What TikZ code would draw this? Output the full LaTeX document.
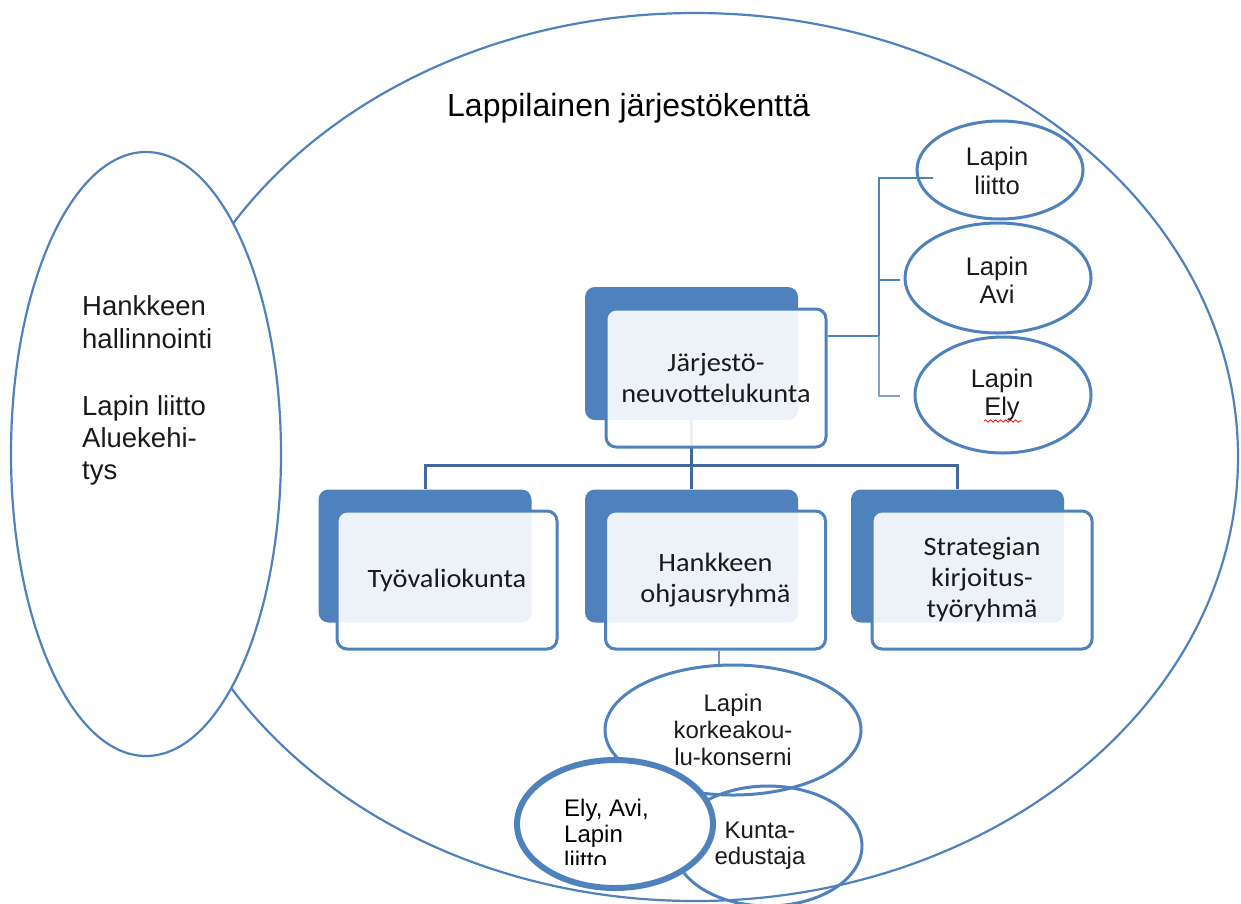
\documentclass[tikz,border=0pt]{standalone}
\usepackage{fontspec}
\setmainfont{Liberation Sans}
\newfontfamily\calfont[FakeStretch=1.07]{Carlito}
\usetikzlibrary{shapes.geometric,decorations.pathmorphing}
\definecolor{ob}{HTML}{4F81BD}
\definecolor{cn}{HTML}{41699C}
\definecolor{cnl}{HTML}{7FA0CC}
\definecolor{txt}{HTML}{1A1A1A}
\tikzset{
  oval/.style={ellipse,draw=ob,inner sep=0pt,align=center,text=txt},
  backbox/.style={rectangle,rounded corners=10pt,fill=ob,minimum width=213pt,minimum height=133pt,inner sep=0pt},
  frontbox/.style={rectangle,rounded corners=10pt,draw=ob,line width=3pt,fill=white,fill opacity=0.9,text opacity=1,
     minimum width=220pt,minimum height=138pt,inner sep=0pt,align=center,text=txt,
     font=\calfont\fontsize{26.5}{31}\selectfont},
  conn/.style={draw=cn,line width=3pt},
  sideconn/.style={draw=ob,line width=2pt},
  arialtxt/.style={inner sep=0pt,anchor=base west,text=txt,font=\fontsize{27.5}{33}\selectfont},
}
\begin{document}
\begin{tikzpicture}[x=1pt,y=-1pt]
\useasboundingbox (0,0) rectangle (1241,903);
% outer field
\node[oval,line width=2.2pt,minimum width=1086pt,minimum height=888pt] (field) at (695,457) {};
\node[inner sep=0pt,anchor=base west,text=black,font=\fontsize{32}{38}\selectfont] (title) at (447,116) {Lappilainen järjestökenttä};
% left ellipse
\node[oval,line width=2.2pt,fill=white,minimum width=270pt,minimum height=604pt] (left) at (146,454) {};
\node[arialtxt] (l1) at (82,315) {Hankkeen};
\node[arialtxt] (l2) at (82,348) {hallinnointi};
\node[arialtxt] (l3) at (82,415) {Lapin liitto};
\node[arialtxt] (l4) at (82,447) {Aluekehi-};
\node[arialtxt] (l5) at (82,479) {tys};
% back boxes
\node[backbox] (b1) at (691.5,353.5) {};
\node[backbox] (b2) at (425,556) {};
\node[backbox] (b3) at (691.5,556) {};
\node[backbox] (b4) at (957.5,556) {};
% connectors
\coordinate (hl) at (691.5,465);
\draw[conn] (b1.south) -- (b3.north);
\draw[conn] (b2.north) |- (hl) -| (b4.north);
\coordinate (rj) at (879,336);
\coordinate (t1) at (933,178);
\coordinate (t2) at (900,280);
\coordinate (t3) at (900,396);
% front boxes
\node[frontbox] (f1) at (716,378) {Järjestö-\\neuvottelukunta};
\node[frontbox] (f2) at (447,580) {Työvaliokunta};
\node[frontbox] (f3) at (715.5,580) {Hankkeen\\ohjausryhmä};
\node[frontbox] (f4) at (982,580) {Strategian\\kirjoitus-\\työryhmä};
\draw[sideconn] (f1.east |- rj) -- (rj);
\draw[sideconn] (rj) |- (t1);
\draw[sideconn] (rj) |- (t2);
\draw[draw=cnl,line width=2pt] (rj) |- (t3);
% right ovals
\tikzset{lapintxt/.style={inner sep=0pt,anchor=base,text=txt,font=\fontsize{25.5}{29}\selectfont}}
\node[oval,line width=3pt,minimum width=166pt,minimum height=98pt] (e1) at (1000,170) {};
\node[oval,line width=3pt,minimum width=186pt,minimum height=110pt] (e2) at (998,278) {};
\node[oval,line width=3pt,minimum width=176pt,minimum height=116pt] (e3) at (1003,395) {};
\node[lapintxt] (e1a) at (997,165) {Lapin};
\node[lapintxt] (e1b) at (997,194) {liitto};
\node[lapintxt] (e2a) at (997,275) {Lapin};
\node[lapintxt] (e2b) at (997,303) {Avi};
\node[lapintxt] (e3a) at (1002,387) {Lapin};
\node[lapintxt] (e3b) at (1002,415) {Ely};
\draw[red,line width=0.8pt,decorate,decoration={snake,amplitude=1.2pt,segment length=5pt}] (e3b.base west) ++(0,6) -- ++(38,0);
% bottom ovals
\draw[draw=cn!70,line width=1.5pt] ([xshift=3.5pt]f3.south) -- ++(0,16);
\node[oval,line width=3pt,minimum width=256pt,minimum height=130pt,font=\fontsize{24}{27}\selectfont] (k1) at (733,730) {Lapin\\korkeakou-\\lu-konserni};
\node[oval,line width=3pt,minimum width=188pt,minimum height=120pt,font=\fontsize{24}{26}\selectfont] (k2) at (768,846) {\hspace*{-16pt}Kunta-\\\hspace*{-16pt}edustaja};
\node[oval,line width=6pt,fill=white,minimum width=196pt,minimum height=128pt] (k3) at (615,824) {};
\begin{scope}
\clip (520,760) rectangle (712,864);
\tikzset{elytxt/.style={inner sep=0pt,anchor=base west,text=black,font=\fontsize{24}{26}\selectfont}}
\node[elytxt] (k3a) at (564,816) {Ely, Avi,};
\node[elytxt] (k3b) at (564,842) {Lapin};
\node[elytxt] (k3c) at (564,868) {liitto};
\end{scope}
\end{tikzpicture}
\end{document}
